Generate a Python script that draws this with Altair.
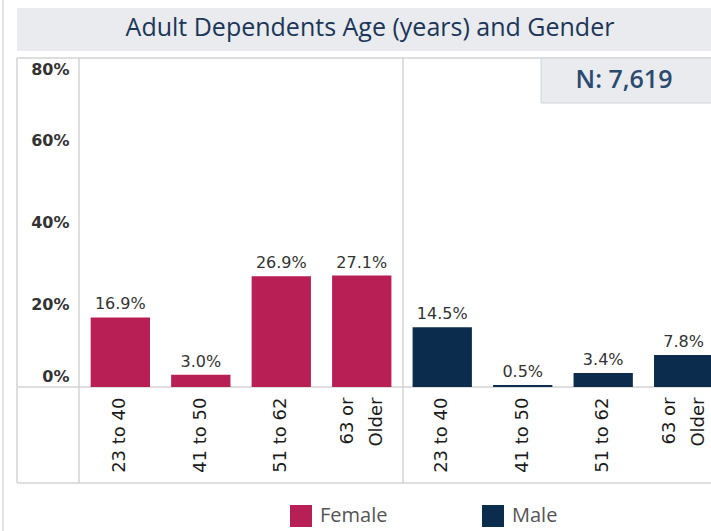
import altair as alt
import pandas as pd

# Share of adult dependents by age group, split by gender (percent)
GENDERS = ["Female", "Male"]
AGE_GROUPS = ["23 to 40", "41 to 50", "51 to 62", "63 or|Older"]
FEMALE_PCT = [16.9, 3.0, 26.9, 27.1]
MALE_PCT = [14.5, 0.5, 3.4, 7.8]
Y_TICKS = [0, 20, 40, 60, 80]
TITLE = "Adult Dependents Age (years) and Gender"
N_TEXT = "N: 7,619"
COLORS = ["#b71f55", "#0c2c4d"]

rows = []
for gender, values in zip(GENDERS, [FEMALE_PCT, MALE_PCT]):
    for age, pct in zip(AGE_GROUPS, values):
        rows.append({
            "gender": gender,
            "key": f"{gender}~{age}",
            "pct": pct,
            "label": f"{pct:.1f}%",
        })
df = pd.DataFrame(rows)
order = list(df["key"])

# plot area geometry (pixels); the frame around it is drawn relative to it
W, H = 632, 329
LEFT, TOP = 79, 58
FRAME_L = 17 - LEFT
FRAME_B = 483 - TOP
GRID = "#d3d3d3"

x_enc = alt.X(
    "key:N",
    sort=order,
    scale=alt.Scale(range=[0, 646], paddingInner=0.263, paddingOuter=0.145),
    axis=alt.Axis(
        title=None,
        labelAngle=270,
        labelExpr="split(split(datum.label, '~')[1], '|')",
        # two-line labels are shifted so the pair sits centred on the bar
        labelOffset={"condition": {"test": "indexof(datum.value, '|') >= 0", "value": -14}, "value": 0},
        labelFont="DejaVu Sans",
        labelFontSize=18,
        labelColor="#1a1a1a",
        labelPadding=10,
        labelLineHeight=29,
        ticks=False,
        domain=False,
    ),
)
y_enc = alt.Y(
    "pct:Q",
    scale=alt.Scale(domain=[0, 80], nice=False),
    axis=alt.Axis(
        title=None,
        values=Y_TICKS,
        labelExpr="datum.value + '%'",
        labelFont="DejaVu Sans",
        labelFontWeight="bold",
        labelFontSize=16,
        labelColor="#333333",
        labelPadding=10,
        labelFlush=True,
        labelFlushOffset=-3,
        ticks=False,
        domain=False,
        grid=False,
    ),
)

base = alt.Chart(df)

bars = base.mark_bar().encode(
    x=x_enc,
    y=y_enc,
    color=alt.Color(
        "gender:N",
        scale=alt.Scale(domain=GENDERS, range=COLORS),
        legend=alt.Legend(
            title=None,
            orient="none",
            legendX=211,
            legendY=447,
            direction="horizontal",
            symbolType="square",
            symbolSize=484,
            symbolStrokeWidth=0,
            symbolOpacity=1,
            labelFont="Open Sans",
            labelFontSize=20,
            labelColor="#555555",
            labelOffset=8,
            columnPadding=94,
        ),
    ),
)

values_text = base.mark_text(
    baseline="alphabetic", dy=-8, font="DejaVu Sans", fontSize=16, color="#333333"
).encode(x=alt.X("key:N", sort=order), y="pct:Q", text="label:N")

one = alt.Data(values=[{"k": 0}])

title_box = alt.Chart(one).mark_rect(color="#e9ebee").encode(
    x=alt.value(FRAME_L), x2=alt.value(W), y=alt.value(8 - TOP), y2=alt.value(51 - TOP)
)
title_text = alt.Chart(one).mark_text(
    text=TITLE, font="Open Sans", fontSize=25, fontWeight=500, color="#1b3658", baseline="middle", align="center"
).encode(x=alt.value(370 - LEFT), y=alt.value(28 - TOP))

n_box = alt.Chart(one).mark_rect(color="#e9ebee", stroke="#d0d3d8", strokeWidth=1).encode(
    x=alt.value(541 - LEFT), x2=alt.value(W + 5), y=alt.value(0), y2=alt.value(103 - TOP)
)
n_text = alt.Chart(one).mark_text(
    text=N_TEXT, font="Open Sans", fontSize=25, fontWeight=600, color="#2a4a6e", baseline="middle", align="center"
).encode(x=alt.value(624 - LEFT), y=alt.value(80 - TOP))


def hrule(yv, x0, x1, color=GRID, width=1.5):
    return alt.Chart(one).mark_rule(color=color, strokeWidth=width).encode(
        x=alt.value(x0), x2=alt.value(x1), y=alt.value(yv)
    )


def vrule(xv, y0, y1, color=GRID, width=1.5):
    return alt.Chart(one).mark_rule(color=color, strokeWidth=width).encode(
        x=alt.value(xv), y=alt.value(y0), y2=alt.value(y1)
    )


frame = [
    hrule(0, FRAME_L, W),
    hrule(H, FRAME_L, W),
    hrule(FRAME_B, FRAME_L, W),
    vrule(FRAME_L, 0, FRAME_B),
    vrule(0, 0, FRAME_B),
    vrule(324, 0, FRAME_B),
    vrule(3 - LEFT, -TOP, 531 - TOP, color="#c8c8c8", width=1),
]

chart = alt.layer(
    title_box, title_text, *frame, bars, values_text, n_box, n_text
).properties(
    width=W,
    height=H,
    autosize=alt.AutoSizeParams(type="none"),
    padding={"left": LEFT, "top": TOP, "right": 0, "bottom": 531 - TOP - H},
    background="white",
).configure_view(strokeWidth=0)

chart.save("out.html", embed_options={"renderer": "svg", "actions": False})
